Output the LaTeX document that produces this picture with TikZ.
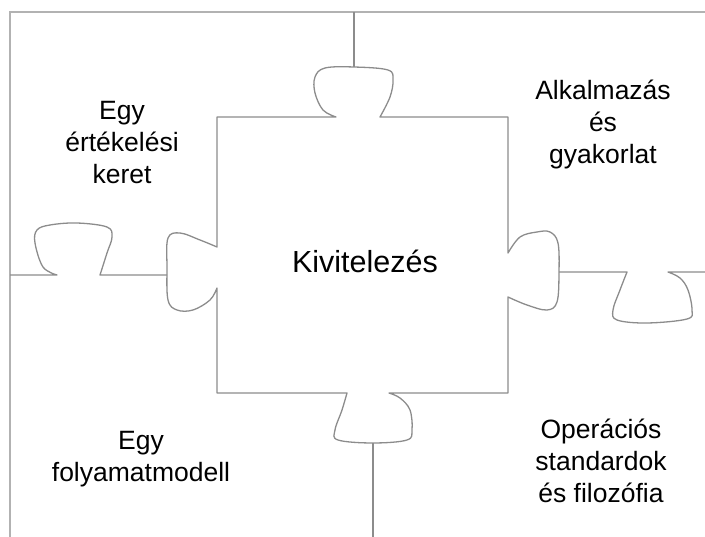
\documentclass[tikz,border=0pt]{standalone}
\usepackage{fontspec}
\setmainfont{Liberation Sans}

\begin{document}
\begin{tikzpicture}[x=1pt, y=-1pt, line width=1.3pt,
        edge/.style = {draw=black!45, line join=round},
        frame/.style = {draw=black!30},
        label/.style = {align=center, font=\fontsize{26.5}{32}\selectfont},
        title/.style = {font=\fontsize{30.5}{34}\selectfont}]
            \useasboundingbox (0,0) rectangle (705,537);

            % frame of the sheet
            \draw[frame] (10,537) -- (10,12) -- (705,12);

            % the middle piece
            \draw[edge] (217,117) -- (336,117)
                -- plot[smooth, tension=0.6] coordinates {(336,117) (323,110) (315,93) (315,77) (325,68) (354,67) (388,70) (393,80) (390,97) (380,117)}
                -- (508,117) -- (508,253)
                -- plot[smooth, tension=0.6] coordinates {(508,253) (520,237) (537,232) (550,232) (558,243) (559,273) (557,302) (547,310) (527,305) (508,297)}
                -- (508,393) -- (389,393)
                -- plot[smooth, tension=0.6] coordinates {(389,393) (400,398) (410,410) (412,430) (407,440) (373,443) (338,440) (335,430) (342,410) (347,393)}
                -- (217,393) -- (217,288)
                -- plot[smooth, tension=0.6] coordinates {(217,288) (210,300) (193,310) (177,310) (168,300) (167,267) (168,238) (180,233) (200,240) (217,247)}
                -- cycle;

            % the cuts between the outer pieces
            \draw[edge] (354,12) -- (354,67);
            \draw[edge] (373,443) -- (373,537);
            \draw[edge] (10,275) -- (57,275)
                -- plot[smooth, tension=0.6] coordinates {(57,275) (43,267) (35,243) (37,230) (50,225) (77,223) (107,227) (112,237) (107,253) (100,275)}
                -- (167,275);
            \draw[edge] (559,272) -- (627,272)
                -- plot[smooth, tension=0.6] coordinates {(627,272) (620,290) (613,310) (617,320) (647,323) (687,319) (692,310) (688,290) (680,278) (668,272)}
                -- (705,272);

            % texts
            \node[title] (centre) at (365,261) {Kivitelezés};
            \node[label] (frameworks) at (122,143) {Egy\\értékelési\\keret};
            \node[label] (practice) at (603,124) {Alkalmazás\\és\\gyakorlat};
            \node[label] (model) at (141,459) {Egy\\folyamatmodell};
            \node[label] (standards) at (601,461) {Operációs\\standardok\\és filozófia};
        \end{tikzpicture}
\end{document}
